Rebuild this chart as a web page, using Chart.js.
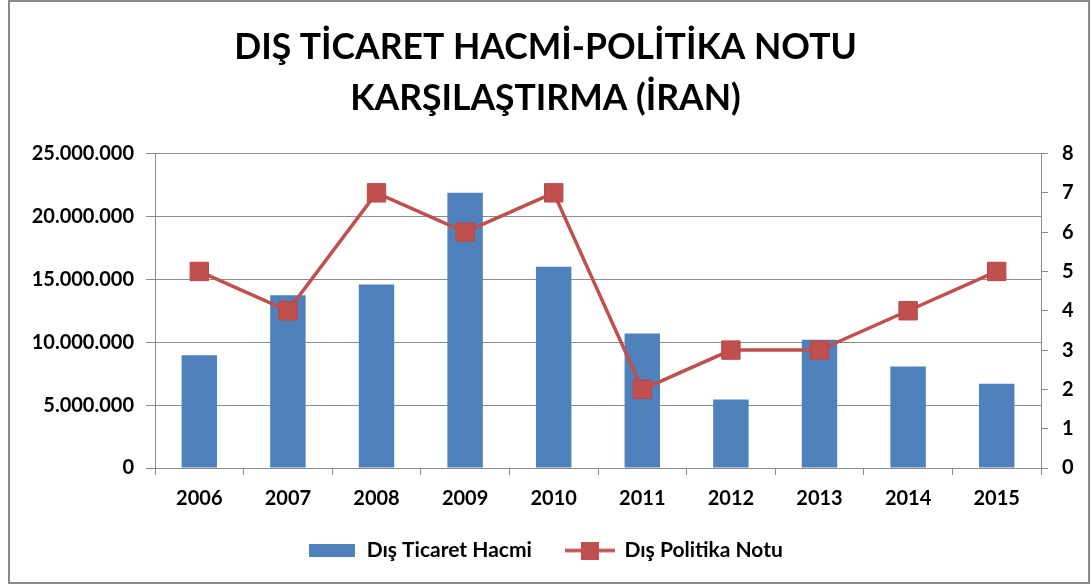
<!DOCTYPE html>
<html>
<head>
<meta charset="utf-8">
<script src="https://cdn.jsdelivr.net/npm/chart.js@4"></script>
<style>
  html, body { margin: 0; padding: 0; background: #fff; }
  #wrap { width: 1091px; height: 586px; position: relative; }
</style>
</head>
<body>
<div id="wrap"><canvas id="chart" width="1091" height="586"></canvas></div>
<script>
const years = ['2006', '2007', '2008', '2009', '2010', '2011', '2012', '2013', '2014', '2015'];
const ticaretHacmi = [8970000, 13730000, 14580000, 21880000, 16000000, 10690000, 5450000, 10200000, 8070000, 6690000];
const politikaNotu = [5, 4, 7, 6, 7, 2, 3, 3, 4, 5];
const titleLines = ['DIŞ TİCARET HACMİ-POLİTİKA NOTU', 'KARŞILAŞTIRMA (İRAN)'];

const FONT = 'Lato, "Open Sans", sans-serif';
const BLUE = '#4F81BD';
const RED = '#C0504D';
const GRID = '#8c8c8c';

// legend icons: a filled box for the bars, a line with a square for the line series
function boxIcon() {
  const c = document.createElement('canvas');
  c.width = 46; c.height = 13;
  const g = c.getContext('2d');
  g.fillStyle = BLUE;
  g.fillRect(0, 0, 46, 13);
  return c;
}
function lineIcon() {
  const c = document.createElement('canvas');
  c.width = 50; c.height = 18;
  const g = c.getContext('2d');
  g.strokeStyle = RED; g.lineWidth = 3.5;
  g.beginPath(); g.moveTo(0, 9); g.lineTo(50, 9); g.stroke();
  g.fillStyle = RED;
  g.fillRect(16, 0, 18, 18);
  return c;
}

const framePlugin = {
  id: 'frame',
  afterDraw(chart) {
    const ctx = chart.ctx;
    ctx.save();
    ctx.strokeStyle = '#8a8a8a';
    ctx.lineWidth = 2;
    ctx.strokeRect(9, 1, 1080, 582);
    ctx.restore();
  }
};

const tickFont = { family: FONT, size: 20, weight: 'bold' };

new Chart(document.getElementById('chart'), {
  type: 'bar',
  data: {
    labels: years,
    datasets: [
      {
        label: 'Dış Ticaret Hacmi',
        data: ticaretHacmi,
        yAxisID: 'y',
        backgroundColor: BLUE,
        borderWidth: 0,
        categoryPercentage: 1,
        barPercentage: 0.4,
        order: 2
      },
      {
        type: 'line',
        label: 'Dış Politika Notu',
        data: politikaNotu,
        yAxisID: 'y1',
        borderColor: RED,
        backgroundColor: RED,
        borderWidth: 3.5,
        pointStyle: 'rect',
        pointRadius: 13,
        pointHoverRadius: 13,
        pointBorderWidth: 1,
        pointBorderColor: '#b9484a',
        tension: 0,
        order: 1
      }
    ]
  },
  options: {
    responsive: false,
    animation: false,
    layout: { padding: { top: 14, bottom: 15, left: 0, right: 0 } },
    plugins: {
      title: {
        display: true,
        text: titleLines,
        color: '#000',
        font: { family: FONT, size: 35.5, weight: 'bold', lineHeight: 1.43 },
        padding: { top: 8, bottom: 30 }
      },
      legend: {
        position: 'bottom',
        labels: {
          usePointStyle: true,
          pointStyleWidth: 48,
          generateLabels: chart => [
            { text: 'Dış Ticaret Hacmi', pointStyle: boxIcon(), fillStyle: BLUE, strokeStyle: BLUE, lineWidth: 0, datasetIndex: 0 },
            { text: 'Dış Politika Notu', pointStyle: lineIcon(), fillStyle: RED, strokeStyle: RED, lineWidth: 0, datasetIndex: 1 }
          ],
          color: '#000',
          font: { family: FONT, size: 21, weight: 'bold' },
          padding: 34
        }
      },
      tooltip: { enabled: false }
    },
    scales: {
      x: {
        offset: true,
        grid: { display: true, drawOnChartArea: false, drawTicks: true, tickLength: 7, color: GRID, offset: true },
        border: { color: GRID, width: 1 },
        ticks: { color: '#000', font: tickFont, padding: 12 },
        afterFit: s => { s.height = 38; }
      },
      y: {
        position: 'left',
        min: 0, max: 25000000,
        grid: { color: GRID, lineWidth: 1, tickLength: 9 },
        border: { color: GRID, width: 1 },
        ticks: {
          stepSize: 5000000,
          color: '#000',
          font: tickFont,
          padding: 12,
          callback: v => v.toLocaleString('tr-TR')
        },
        afterFit: s => { s.width = 155; }
      },
      y1: {
        position: 'right',
        min: 0, max: 8,
        grid: { drawOnChartArea: false, color: GRID, tickLength: 7 },
        border: { color: GRID, width: 1 },
        ticks: { stepSize: 1, color: '#000', font: tickFont, padding: 14 },
        afterFit: s => { s.width = 50; }
      }
    }
  },
  plugins: [framePlugin]
});
</script>
</body>
</html>
